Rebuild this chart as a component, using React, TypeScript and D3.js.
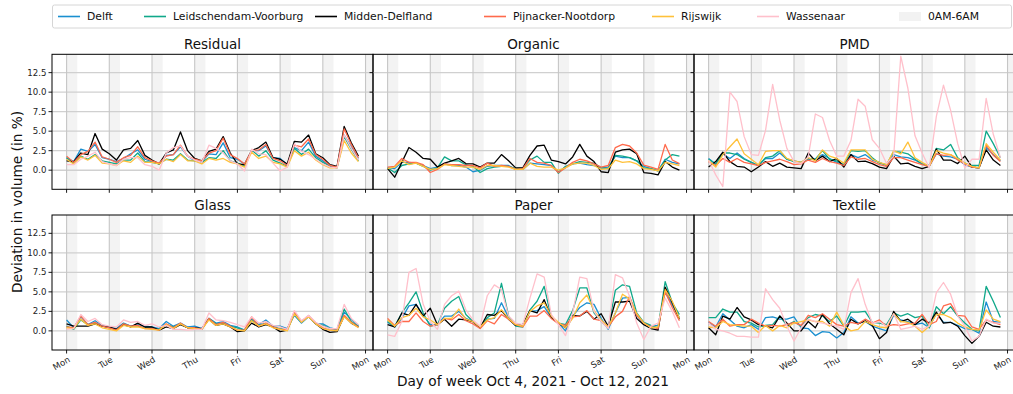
import * as d3 from "d3";

const municipalities = ["Delft", "Leidschendam-Voorburg", "Midden-Delfland", "Pijnacker-Nootdorp", "Rijswijk", "Wassenaar"];
const lineColors = ["#1a8fd0", "#10a88a", "#000000", "#ff6a4c", "#ffc13a", "#ffc0cb"];
const nightLabel = "0AM-6AM";
const dayLabels = ["Mon", "Tue", "Wed", "Thu", "Fri", "Sat", "Sun", "Mon"];
const dayStartHours = [0, 24, 48, 72, 96, 120, 144, 168];
const yTicks = [0, 2.5, 5, 7.5, 10, 12.5];
const panelTitles = ["Residual", "Organic", "PMD", "Glass", "Paper", "Textile"];

// one sample every 4 hours, Mon 00:00 .. Sun 20:00
const sampleHours = [
  0, 4, 8, 12, 16, 20, 24, 28, 32, 36, 40, 44, 48, 52, 56, 60, 64, 68, 72, 76, 80,
  84, 88, 92, 96, 100, 104, 108, 112, 116, 120, 124, 128, 132, 136, 140, 144, 148, 152, 156, 160, 164,
];

// rows follow `municipalities`
const residual = [
  [1.6,1.1,2.7,2.4,3.3,1.6,1.4,1.1,1.5,2.1,2.6,1.4,1.1,0.8,1.9,2.0,3.0,1.8,1.2,1.1,2.1,2.0,3.5,1.6,1.4,0.8,2.5,2.5,3.1,1.6,1.5,0.7,2.9,2.5,3.6,1.8,1.2,0.5,0.4,4.5,3.0,1.5],
  [1.6,0.9,1.8,1.4,2.0,1.2,1.0,0.8,1.3,1.3,2.2,1.1,1.0,0.8,1.4,1.3,2.1,1.3,1.2,1.0,1.6,1.5,2.5,1.2,0.9,0.5,2.6,1.8,2.5,1.3,0.9,0.5,2.8,2.0,2.7,1.6,1.0,0.5,0.3,4.3,2.7,1.2],
  [1.2,1.1,2.2,2.0,4.7,2.7,2.1,1.3,2.6,2.8,3.8,1.9,1.3,0.8,2.2,2.6,4.9,2.5,1.5,1.2,2.4,2.7,4.3,2.2,0.8,0.7,2.5,2.9,3.6,1.6,1.4,0.8,3.7,3.6,4.5,2.1,1.6,0.7,0.5,5.6,3.5,1.8],
  [1.8,1.0,2.0,2.4,3.6,1.7,1.4,1.0,1.6,1.9,3.0,1.6,1.2,0.9,1.8,2.0,3.2,1.8,1.4,1.2,2.2,2.5,4.1,2.0,1.5,0.8,2.5,2.6,3.3,1.5,1.2,0.6,3.2,3.0,4.0,2.0,1.4,0.6,0.4,5.3,3.3,1.6],
  [1.4,0.8,1.7,1.3,1.9,0.9,0.8,0.6,1.2,1.0,1.8,1.0,1.0,0.8,1.4,1.1,2.0,1.2,1.2,0.8,1.5,1.3,1.5,1.0,0.8,0.4,2.3,1.5,1.8,1.0,0.8,0.4,2.5,1.8,2.3,1.3,0.7,0.3,0.3,3.8,2.2,1.1],
  [0.7,0.7,1.4,1.8,2.3,1.1,0.8,0.6,1.4,1.6,1.6,0.7,0.5,0.0,2.2,2.9,3.1,1.8,1.3,1.0,3.2,2.8,2.2,1.2,0.8,-0.1,2.7,2.1,2.0,0.9,-0.1,0.4,3.4,2.4,2.0,1.4,0.8,0.4,0.3,4.5,2.8,1.3],
];

const organic = [
  [0.3,0.2,1.0,1.0,0.9,0.6,0.2,0.4,0.8,0.6,0.6,0.4,-0.2,0.0,0.5,0.6,0.6,0.6,0.1,0.1,0.9,0.8,0.7,0.6,-0.2,0.4,0.8,0.9,0.7,0.6,0.3,0.4,1.8,1.6,1.6,1.2,0.5,0.2,-0.1,1.4,1.0,0.8],
  [0.3,-0.3,0.6,0.8,0.9,0.5,0.0,0.3,1.7,1.2,1.2,0.7,0.5,-0.3,0.2,0.4,0.5,0.5,0.2,0.3,1.3,1.8,1.0,1.0,-0.4,0.5,0.8,1.1,1.0,0.9,0.3,0.2,1.9,1.8,1.6,1.2,0.3,0.2,-0.1,1.3,2.0,1.8],
  [0.2,-0.9,1.0,2.9,2.3,1.5,1.4,0.4,0.9,1.2,1.5,0.85,0.8,0.4,0.9,0.9,2.0,1.2,0.3,0.3,1.9,3.1,3.2,1.3,1.1,0.8,1.7,3.3,1.8,1.1,-0.2,-0.3,2.3,2.6,2.7,2.1,-0.3,-0.4,-0.6,1.1,0.4,0.0],
  [0.4,0.5,1.5,1.0,1.0,0.7,-0.3,0.1,0.8,0.7,0.7,0.6,0.6,0.3,0.9,0.5,0.6,0.5,0.1,0.2,1.5,1.0,0.9,0.6,-0.3,0.3,1.0,1.4,1.2,0.8,0.4,0.6,2.9,3.3,3.1,2.2,0.65,0.4,0.1,3.3,1.3,0.85],
  [0.2,0.4,1.2,0.7,0.9,0.5,0.1,0.2,0.7,0.6,0.5,0.4,0.4,0.1,0.6,0.6,0.5,0.4,0.1,0.1,0.9,0.5,0.4,0.4,0.0,0.3,0.8,0.9,0.9,0.6,0.1,0.2,1.3,1.0,1.1,0.8,0.2,0.1,-0.1,1.0,0.8,0.6],
  null,
];

const pmd = [
  [1.5,0.8,2.1,1.5,2.2,1.5,1.0,0.6,1.5,1.5,2.2,1.4,1.2,1.0,1.4,1.4,2.0,1.5,1.0,0.7,2.0,1.6,2.0,1.3,1.0,0.6,2.0,1.7,1.6,1.3,0.8,0.5,2.1,1.8,1.7,1.4,0.7,0.4,0.3,2.9,2.0,1.2],
  [1.4,0.8,2.2,2.2,2.0,1.4,1.0,0.6,1.6,1.8,2.5,1.4,1.1,1.0,1.5,1.4,2.5,1.4,1.2,0.7,2.5,2.4,2.5,1.6,0.9,0.7,2.4,2.3,2.1,1.4,0.8,0.6,2.8,2.6,3.3,1.6,0.9,0.6,0.6,5.0,3.4,1.6],
  [0.4,1.1,2.3,1.1,0.5,0.4,-0.2,0.4,1.1,0.5,0.9,0.4,0.3,0.2,2.2,1.2,1.8,1.1,1.5,0.4,2.0,1.1,1.15,0.85,0.4,0.2,1.8,0.8,0.9,0.5,0.2,0.5,2.7,1.3,1.3,0.85,1.8,0.4,0.3,2.6,1.3,0.6],
  [1.1,0.6,1.5,1.0,1.5,1.0,0.8,0.6,1.0,1.2,1.4,1.1,0.7,0.8,1.3,1.0,1.5,1.1,0.9,0.6,1.7,1.4,1.5,1.1,0.7,0.5,1.6,1.6,1.3,1.0,0.7,0.5,2.1,1.9,2.0,1.3,0.8,0.4,0.3,3.2,1.9,1.1],
  [1.2,0.4,2.0,3.0,4.0,2.1,1.4,0.7,2.4,2.5,2.5,1.5,1.2,1.0,1.6,1.2,2.6,1.8,1.5,0.9,2.6,2.6,2.6,1.4,1.0,0.7,2.5,2.1,3.6,1.6,1.0,0.5,2.5,2.2,2.0,1.5,0.9,0.5,0.3,3.4,2.3,1.3],
  [1.3,-0.6,-2.1,10.0,8.8,4.3,2.0,1.9,5.1,11.0,6.4,2.8,1.1,0.85,1.7,7.2,6.75,3.8,1.8,1.8,3.8,9.1,8.2,3.9,2.8,0.85,1.8,14.6,10.5,4.4,2.2,0.3,6.9,10.9,7.7,3.4,0.3,1.4,1.4,9.2,4.6,1.6],
];

const glass = [
  [1.4,0.4,1.8,0.8,1.3,0.7,0.5,0.3,1.0,0.6,0.8,0.6,0.5,0.3,1.2,0.6,1.0,0.5,0.6,0.3,1.6,1.0,1.2,0.7,0.5,0.1,1.5,0.8,1.4,0.6,0.6,0.3,2.0,1.0,1.8,0.9,0.9,0.4,0.2,2.4,1.5,0.7],
  [0.6,0.2,1.4,0.8,1.0,0.6,0.4,0.2,0.9,0.6,0.6,0.4,0.3,0.2,0.8,0.5,0.9,0.4,0.3,0.2,1.6,0.9,1.0,0.6,0.4,0.1,1.4,0.7,1.0,0.5,0.3,0.2,2.1,1.1,1.9,1.0,0.7,0.3,0.2,2.8,1.2,0.6],
  [0.9,0.6,0.6,0.6,0.9,0.6,0.5,0.2,0.8,0.5,1.0,0.5,0.5,0.1,0.5,0.3,0.8,0.4,0.4,0.3,1.5,0.7,0.9,0.5,-0.1,0.0,1.0,0.5,0.8,0.5,-0.1,0.1,2.3,1.2,1.9,0.9,0.2,-0.2,-0.1,1.9,1.0,0.5],
  [0.5,0.4,1.9,0.8,1.1,0.6,0.4,0.1,0.9,0.6,0.7,0.3,0.3,0.1,0.9,0.4,1.0,0.4,0.4,0.2,1.6,0.8,1.1,0.6,0.1,0.1,1.8,0.6,1.0,0.5,0.2,0.2,2.5,1.2,1.9,1.0,0.4,0.1,0.1,2.0,1.1,0.5],
  [0.4,0.3,1.5,0.7,0.9,0.4,0.2,0.0,0.7,0.5,0.5,0.3,0.2,0.1,0.8,0.3,0.9,0.4,0.3,0.2,1.4,0.7,0.9,0.5,0.1,0.0,1.3,0.6,0.9,0.4,0.2,0.0,2.2,1.1,1.8,0.9,0.3,0.1,0.0,1.8,1.0,0.4],
  [0.2,0.3,2.1,1.2,1.6,0.8,0.6,0.5,1.4,1.1,1.2,0.7,0.9,0.5,0.7,0.2,0.2,0.1,0.2,0.2,2.3,1.4,1.3,1.1,0.8,0.5,1.8,1.0,1.2,0.7,0.5,0.2,2.6,1.3,2.0,1.1,0.6,0.3,0.3,3.4,1.6,0.8],
];

const paper = [
  [1.1,0.5,1.6,3.2,3.4,2.0,0.8,0.8,1.9,1.9,2.5,1.6,1.2,0.4,1.5,1.6,3.6,1.7,0.7,0.6,2.5,2.6,3.1,1.7,1.0,0.0,1.9,3.0,3.6,3.4,1.6,0.2,2.3,4.2,4.3,2.0,0.9,0.6,0.7,5.0,3.3,1.7],
  [1.2,0.6,2.3,3.6,5.0,2.3,0.6,0.8,2.9,3.8,4.4,2.1,1.2,0.4,1.7,2.3,6.1,1.9,0.6,0.5,2.7,3.8,5.7,1.7,1.0,0.8,2.6,5.5,5.5,2.3,1.2,0.4,5.2,5.9,5.7,2.3,1.1,0.7,0.4,6.3,3.6,2.1],
  [0.8,0.5,2.3,2.0,3.4,1.9,2.9,0.8,1.5,0.6,1.5,1.4,1.2,0.4,2.1,2.0,2.6,1.5,0.7,0.8,2.6,2.3,4.0,1.7,1.0,0.4,2.0,1.9,2.5,1.5,2.2,0.6,3.7,3.7,3.8,1.6,0.8,0.3,0.1,5.6,3.6,1.5],
  [1.6,0.7,1.2,1.2,2.3,1.2,0.6,0.8,1.6,1.4,2.1,1.3,0.9,0.3,1.3,0.9,2.1,1.5,0.8,0.5,1.9,1.9,2.6,1.6,0.9,0.7,1.8,1.9,2.6,1.5,1.3,0.5,1.8,2.5,4.4,2.0,1.0,0.5,0.3,5.0,3.0,1.3],
  [1.4,0.6,1.7,2.0,2.9,1.8,1.4,0.8,1.6,1.6,2.8,1.5,1.2,0.5,1.4,1.7,2.7,1.6,0.8,0.6,2.5,3.2,3.6,1.9,1.1,0.4,1.6,3.6,4.6,2.6,1.4,0.5,2.3,4.7,4.1,2.2,1.0,0.4,0.5,5.3,3.8,1.6],
  [-0.5,-0.7,1.2,7.5,8.0,3.4,1.2,0.2,3.4,4.5,5.1,2.7,1.4,0.6,4.5,5.9,5.3,1.9,1.0,0.8,4.2,7.3,6.9,2.1,0.8,-0.6,2.3,6.9,6.7,2.5,1.2,0.3,7.2,6.8,4.4,1.0,-1.1,0.6,1.0,4.2,2.5,0.4],
];

const textile = [
  [1.1,0.5,2.2,1.4,0.6,0.4,0.8,0.2,1.7,1.8,1.5,1.5,1.8,0.4,0.3,-0.6,-0.1,-0.2,-0.9,-0.2,1.8,1.0,1.2,0.6,0.3,0.0,2.0,1.4,1.2,0.8,1.0,0.4,2.3,1.1,1.1,0.7,0.3,0.2,-0.3,3.7,1.2,1.1],
  [1.7,1.7,2.8,2.4,2.4,1.2,1.0,0.5,0.7,0.8,1.9,0.7,1.2,0.6,1.7,2.1,1.9,1.2,1.9,0.6,2.4,2.4,2.5,1.1,1.0,0.8,2.3,1.9,2.2,1.7,1.9,0.4,3.1,2.2,3.1,1.9,1.0,0.2,0.0,5.7,3.8,1.7],
  [0.4,-0.5,1.9,1.5,3.0,1.8,1.4,0.8,0.6,0.4,1.9,1.0,0.0,0.0,1.2,0.4,2.1,0.9,0.2,-0.5,1.5,0.9,1.3,0.7,-1.0,-0.2,2.5,1.2,1.5,0.8,1.5,1.0,2.4,1.0,1.1,0.6,-0.6,-1.6,-0.7,1.1,0.6,0.5],
  [1.2,0.6,1.5,0.6,0.8,0.8,1.5,1.0,0.6,0.7,0.6,0.8,1.1,0.7,2.0,1.7,2.2,1.5,0.8,0.6,1.1,0.9,1.5,1.0,1.4,0.6,0.8,0.7,0.9,1.0,2.1,0.8,1.2,3.2,3.5,2.0,1.9,0.5,0.2,1.4,1.1,0.8],
  [0.5,0.4,1.2,0.8,0.7,0.6,0.6,-0.2,0.7,0.0,0.7,0.4,1.0,1.2,1.4,1.2,1.2,0.6,2.4,0.7,0.0,0.2,1.2,0.8,0.5,0.4,2.2,1.2,1.1,0.6,-0.2,0.6,2.1,2.1,1.7,1.0,0.5,0.2,0.1,2.7,1.5,1.2],
  [1.0,0.2,0.0,-0.3,-0.7,-0.7,-0.8,-0.8,5.4,4.0,2.9,0.6,-1.3,0.4,1.5,1.2,1.0,0.8,0.6,0.2,4.9,6.7,3.4,1.0,1.2,0.6,2.2,0.2,0.4,0.6,0.2,0.6,4.9,6.2,4.7,1.9,0.6,-1.3,-0.7,1.5,1.0,1.0],
];

const panelData = [residual, organic, pmd, glass, paper, textile];

const FONT = "DejaVu Sans, sans-serif";
const W = 1013;
const H = 394;
const colX = [52, 373, 694];
const rowY = [54.3, 215];
const panelW = 321;
const panelH = 135;
// left edge of each legend handle
const legendX = [58, 144, 315, 484, 652, 757, 899];

function Legend() {
  const fs = 10.8;
  const handle = 22;
  const pad = 7;
  const labels = [...municipalities, nightLabel];
  const cy = 16.5;
  return (
    <g>
      <rect x={52.5} y={5} width={959} height={23} rx={2} fill="white" stroke="#d6d6d6" strokeWidth={1} />
      {labels.map((label, i) => (
        <g key={i}>
          {i < municipalities.length ? (
            <line x1={legendX[i]} x2={legendX[i] + handle} y1={cy} y2={cy} stroke={lineColors[i]} strokeWidth={1.6} />
          ) : (
            <rect x={legendX[i]} y={cy - 4.5} width={handle} height={9} fill="#f2f2f2" />
          )}
          <text x={legendX[i] + handle + pad} y={cy} dy="0.36em" fontSize={fs} fontFamily={FONT} fill="#111">
            {label}
          </text>
        </g>
      ))}
    </g>
  );
}

function Panel({ idx }: { idx: number }) {
  const col = idx % 3;
  const row = Math.floor(idx / 3);
  const left = colX[col];
  const top = rowY[row];
  const x = d3.scaleLinear().domain([-8.2, 172.2]).range([0, panelW]);
  const y = d3.scaleLinear().domain([-2.45, 14.85]).range([panelH, 0]);
  const line = d3
    .line<number>()
    .x((_, i) => x(sampleHours[i]))
    .y((d) => y(d));
  const clipId = `clip-${idx}`;
  const series = panelData[idx];
  return (
    <g transform={`translate(${left},${top})`}>
      <defs>
        <clipPath id={clipId}>
          <rect x={0} y={0} width={panelW} height={panelH} />
        </clipPath>
      </defs>
      <g clipPath={`url(#${clipId})`}>
        {dayStartHours.map((h) => (
          <rect key={h} x={x(h)} y={0} width={x(h + 6) - x(h)} height={panelH} fill="#f3f3f3" />
        ))}
        {yTicks.map((t) => (
          <line key={t} x1={0} x2={panelW} y1={y(t)} y2={y(t)} stroke="#d0d0d0" strokeWidth={1.4} />
        ))}
        {dayStartHours.map((h) => (
          <line key={h} x1={x(h)} x2={x(h)} y1={0} y2={panelH} stroke="#c6c6c6" strokeWidth={1.1} />
        ))}
        {series.map((s, i) =>
          s ? (
            <path key={i} d={line(s) ?? ""} fill="none" stroke={lineColors[i]} strokeWidth={1.3} strokeLinejoin="round" />
          ) : null
        )}
      </g>
      <rect x={0} y={0} width={panelW} height={panelH} fill="none" stroke="#000" strokeWidth={1} />
      {yTicks.map((t) => (
        <g key={t}>
          <line x1={-3.5} x2={0} y1={y(t)} y2={y(t)} stroke="#000" strokeWidth={0.9} />
          {col === 0 && (
            <text x={-5.5} y={y(t)} dy="0.35em" textAnchor="end" fontSize={8.6} fontFamily={FONT} fill="#222">
              {t.toFixed(1)}
            </text>
          )}
        </g>
      ))}
      {dayStartHours.map((h, i) => (
        <g key={h}>
          <line x1={x(h)} x2={x(h)} y1={panelH} y2={panelH + 3.5} stroke="#000" strokeWidth={0.9} />
          {row === 1 && (
            <text
              transform={`translate(${x(h) + 1},${panelH + 6}) rotate(-30)`}
              dy="0.72em"
              textAnchor="end"
              fontSize={8.6}
              fontFamily={FONT}
              fill="#222"
            >
              {dayLabels[i]}
            </text>
          )}
        </g>
      ))}
      <text x={panelW / 2} y={-5} textAnchor="middle" fontSize={13.5} fontFamily={FONT} fill="#111">
        {panelTitles[idx]}
      </text>
    </g>
  );
}

export default function App() {
  return (
    <svg width={W} height={H} style={{ position: "absolute", left: 0, top: 0, background: "white" }}>
      <rect width={W} height={H} fill="white" />
      <Legend />
      {panelTitles.map((_, i) => (
        <Panel key={i} idx={i} />
      ))}
      <text
        transform="translate(22,202) rotate(-90)"
        textAnchor="middle"
        fontSize={13.7}
        fontFamily={FONT}
        fill="#111"
      >
        Deviation in volume (in %)
      </text>
      <text x={533} y={386} textAnchor="middle" fontSize={13.7} fontFamily={FONT} fill="#111">
        Day of week Oct 4, 2021 - Oct 12, 2021
      </text>
    </svg>
  );
}
